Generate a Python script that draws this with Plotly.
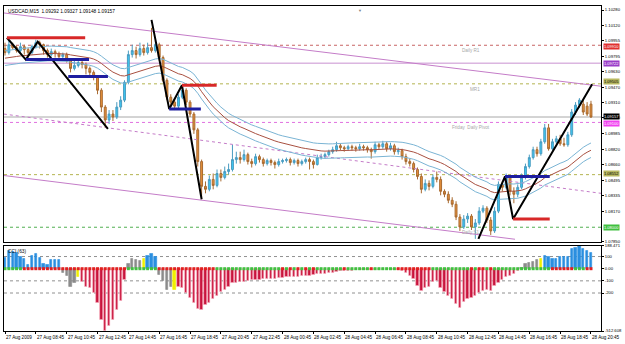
import plotly.graph_objects as go

# ---------------- data (prices in points: price = 1 + pts/100000) ----------------
open_pts = [9875, 9833, 9916, 9885, 9854, 9895, 9864, 9833, 9895, 9937,
            9916, 9854, 9812, 9843, 9823, 9791, 9812, 9750, 9667, 9698,
            9729, 9708, 9667, 9625, 9573, 9438, 9261, 9126, 9188, 9157,
            9261, 9334, 9521, 9812, 9854, 9812, 9875, 9833, 9885, 9854,
            9916, 9781, 9542, 9365, 9313, 9271, 9365, 9438, 9313, 9188,
            9022, 8689, 8429, 8398, 8502, 8439, 8564, 8523, 8585, 8606,
            8710, 8731, 8710, 8762, 8689, 8668, 8741, 8710, 8668, 8700,
            8679, 8658, 8689, 8700, 8710, 8679, 8700, 8668, 8689, 8710,
            8689, 8658, 8731, 8741, 8762, 8793, 8814, 8855, 8835, 8824,
            8845, 8835, 8824, 8845, 8835, 8814, 8793, 8866, 8845, 8876,
            8824, 8855, 8793, 8804, 8741, 8689, 8668, 8606, 8533, 8398,
            8460, 8429, 8523, 8502, 8377, 8346, 8283, 8241, 8107, 8003,
            8086, 8117, 8003, 8045, 8169, 8200, 8075, 7961, 8169, 8450,
            8419, 8523, 8377, 8346, 8419, 8523, 8637, 8731, 8814, 8772,
            8897, 9043, 8824, 8897, 8928, 8876, 8866, 8970, 9209, 9282,
            9292, 9271, 9292]
high_pts = [9937, 9958, 9937, 9906, 9937, 9916, 9885, 9916, 9968, 9958,
            9927, 9875, 9875, 9864, 9843, 9833, 9833, 9771, 9750, 9760,
            9750, 9729, 9687, 9646, 9594, 9459, 9282, 9230, 9230, 9313,
            9375, 9542, 9854, 9916, 9895, 9937, 9916, 9937, 10093, 9958,
            9937, 9802, 9563, 9396, 9344, 9396, 9479, 9459, 9334, 9209,
            9043, 8710, 8481, 8543, 8564, 8606, 8606, 8637, 8668, 8866,
            8793, 8793, 8814, 8783, 8720, 8772, 8762, 8731, 8720, 8720,
            8700, 8720, 8720, 8731, 8731, 8720, 8720, 8710, 8731, 8731,
            8710, 8762, 8772, 8783, 8814, 8845, 8897, 8876, 8855, 8866,
            8866, 8855, 8876, 8866, 8855, 8835, 8897, 8887, 8907, 8897,
            8887, 8876, 8835, 8824, 8772, 8720, 8689, 8627, 8564, 8502,
            8492, 8554, 8585, 8533, 8398, 8377, 8315, 8273, 8138, 8127,
            8148, 8138, 8086, 8211, 8231, 8221, 8107, 8211, 8481, 8481,
            8564, 8543, 8419, 8450, 8564, 8668, 8762, 8845, 8845, 8928,
            9084, 9084, 8928, 8959, 8970, 8939, 9001, 9240, 9313, 9355,
            9334, 9313, 9327]
low_pts = [9802, 9812, 9864, 9833, 9833, 9812, 9781, 9812, 9875, 9875,
           9812, 9781, 9791, 9781, 9760, 9750, 9729, 9625, 9646, 9677,
           9667, 9604, 9583, 9542, 9396, 9209, 9043, 9084, 9115, 9136,
           9230, 9313, 9500, 9781, 9771, 9791, 9802, 9812, 9833, 9833,
           9750, 9521, 9334, 9271, 9230, 9251, 9344, 9282, 9157, 8980,
           8637, 8294, 8356, 8377, 8398, 8419, 8481, 8502, 8554, 8585,
           8668, 8668, 8689, 8658, 8627, 8648, 8679, 8637, 8648, 8648,
           8616, 8637, 8668, 8679, 8648, 8658, 8637, 8648, 8668, 8606,
           8616, 8648, 8710, 8720, 8741, 8772, 8793, 8804, 8793, 8804,
           8804, 8793, 8804, 8804, 8783, 8720, 8772, 8814, 8824, 8793,
           8804, 8762, 8762, 8710, 8658, 8637, 8575, 8502, 8356, 8377,
           8387, 8408, 8471, 8335, 8315, 8252, 8211, 8075, 7961, 7982,
           8045, 7971, 7878, 8024, 8148, 8045, 7919, 7940, 8148, 8377,
           8398, 8335, 8252, 8315, 8398, 8502, 8616, 8710, 8741, 8751,
           8876, 8804, 8804, 8876, 8855, 8845, 8845, 8949, 9178, 9251,
           9178, 9167, 9148]
close_pts = [9833, 9916, 9885, 9854, 9895, 9864, 9833, 9895, 9937, 9916,
             9854, 9812, 9843, 9823, 9791, 9812, 9750, 9667, 9698, 9729,
             9708, 9667, 9625, 9573, 9438, 9261, 9126, 9188, 9157, 9261,
             9334, 9521, 9812, 9854, 9812, 9875, 9833, 9885, 9854, 9916,
             9781, 9542, 9365, 9313, 9271, 9365, 9438, 9313, 9188, 9022,
             8689, 8429, 8398, 8502, 8439, 8564, 8523, 8585, 8606, 8710,
             8731, 8710, 8762, 8689, 8668, 8741, 8710, 8668, 8700, 8679,
             8658, 8689, 8700, 8710, 8679, 8700, 8668, 8689, 8710, 8689,
             8658, 8731, 8741, 8762, 8793, 8814, 8855, 8835, 8824, 8845,
             8835, 8824, 8845, 8835, 8814, 8793, 8866, 8845, 8876, 8824,
             8855, 8793, 8804, 8741, 8689, 8668, 8606, 8533, 8398, 8460,
             8429, 8523, 8502, 8377, 8346, 8283, 8241, 8107, 8003, 8086,
             8117, 8003, 8045, 8169, 8200, 8075, 7961, 8169, 8450, 8419,
             8523, 8377, 8346, 8419, 8523, 8637, 8731, 8814, 8772, 8897,
             9043, 8824, 8897, 8928, 8876, 8866, 8970, 9209, 9282, 9334,
             9209, 9188, 9157]

cci_values = [92, 150, 140, 130, 100, 80, 30, 110, 125, 90,
              40, 35, 70, 75, 70, -30, -60, -150, -120, -70,
              -110, -150, -160, -200, -280, -420, -512.608, -470, -420, -340,
              -260, -90, 40, 80, 70, 65, 80, 110, 125, 95,
              -50, -100, -170, -150, -170, -150, -160, -200, -240, -280,
              -330, -340, -300, -280, -250, -220, -190, -170, -150, -120,
              -115, -110, -105, -100, -95, -95, -90, -85, -85, -80,
              -80, -75, -75, -70, -70, -65, -65, -60, -55, -55,
              -50, -45, -40, -40, -35, -30, -25, -20, -18, -15,
              -15, -12, -10, -10, -8, -8, -6, -6, -5, -5,
              -4, -5, -10, -15, -30, -60, -80, -140, -180, -160,
              -150, -110, -100, -160, -190, -220, -250, -290, -325, -270,
              -250, -240, -220, -200, -180, -170, -180, -140, -120, -90,
              -70, -60, -40, -20, 10, 40, 50, 60, 75, 85,
              105, 95, 85, 85, 95, 95, 100, 160, 175, 188.471, 160,
              150, 130]
# histogram colour state per bar (run-length: code, count)
cci_color_runs = [("b", 15), ("g", 4), ("y", 1), ("r", 12), ("g", 4), ("y", 1),
                  ("b", 3), ("g", 4), ("y", 1), ("r", 89), ("g", 5), ("y", 1), ("b", 13)]
# zero-line trend squares per bar (run-length)
trend_runs = [("g", 5), ("r", 27), ("g", 8), ("r", 15), ("g", 17),
              ("r", 1), ("g", 1), ("r", 1), ("g", 1), ("r", 1), ("g", 1), ("r", 1), ("g", 1), ("r", 1),
              ("g", 7), ("r", 1), ("g", 6), ("r", 1), ("g", 6), ("r", 9), ("g", 10),
              ("r", 1), ("g", 1), ("r", 2), ("g", 1), ("r", 1), ("g", 1),
              ("g", 14), ("r", 6), ("g", 3), ("r", 2)]

time_labels = ["27 Aug 2009", "27 Aug 08:45", "27 Aug 10:45", "27 Aug 12:45", "27 Aug 14:45",
               "27 Aug 16:45", "27 Aug 18:45", "27 Aug 20:45", "27 Aug 22:45", "28 Aug 00:45",
               "28 Aug 02:45", "28 Aug 04:45", "28 Aug 06:45", "28 Aug 08:45", "28 Aug 10:45",
               "28 Aug 12:45", "28 Aug 14:45", "28 Aug 16:45", "28 Aug 18:45", "28 Aug 20:45"]
time_label_bars = [0, 8, 16, 24, 32, 40, 48, 56, 64, 72, 80, 88, 96, 104, 112, 120, 128, 136, 144, 152]

price_ticks = [1.10280, 1.10120, 1.09955, 1.09795, 1.09630, 1.09470, 1.09310, 1.09150,
               1.08985, 1.08820, 1.08660, 1.08495, 1.08335, 1.08170, 1.07850]
cci_ticks = [188.471, 100, 0, -100, -200, -512.608]
cci_tick_text = ["188.471", "100", "0.00", "-100", "-200", "-512.608"]

# drawn objects (bar index, price pts)
zigzag_1 = [(0.5, 9989), (5.4, 9760), (8.5, 9947), (26.7, 9032)]
zigzag_2 = [(38.0, 10176), (42.6, 9240), (45.9, 9490), (51.0, 8294)]
zigzag_3 = [(122.8, 7878), (129.7, 8533), (131.8, 8086), (152.3, 9500)]
red_levels = [(0.5, 20.8, 9989), (45.9, 54.9, 9490), (131.8, 141.3, 8086)]
blue_levels = [(5.4, 21.8, 9760), (16.4, 26.7, 9583), (42.6, 50.8, 9240), (129.7, 141.3, 8533)]
channel_top = [(-0.3, 10249), (154.6, 9480)]
channel_mid = [(-0.3, 9188), (154.6, 8356)]
channel_low = [(-0.3, 8543), (132.3, 7874)]
# horizontal pivot levels: (price, colour, dash, label, label colour, text colour, label shift px)
pivot_levels = [(1.09910, "#C86464", "dot", "1.09910", "#E03030", "white", -1),
                (1.09722, "#C890D0", "solid", "1.09722", "#9A3CC8", "white", 0),
                (1.09505, "#B4B450", "dot", "1.09505", "#B8B860", "black", 2),
                (1.09100, "#E070E0", "dot", "1.09100", "#F040F0", "white", -1),
                (1.08552, "#B4B450", "dot", "1.08552", "#B8B860", "black", 1),
                (1.08000, "#50B050", "dot", "1.08000", "#40C040", "white", 0)]
bid_price = 1.09157
pivot_names = [(121, 1.09910, "Daily R1"), (122, 1.09505, "MR1"),
               (121, 1.09100, "Friday  Daily Pivot"), (121, 1.08000, "Daily S1")]
ma_period = 34
ma_seed_pts = 9771
envelope_dev = 0.0007

# ---------------- derived ----------------
def px(v):
    return 1 + v / 100000.0

n = len(close_pts)
bars = list(range(n))
O = [px(v) for v in open_pts]
H = [px(v) for v in high_pts]
L = [px(v) for v in low_pts]
C = [px(v) for v in close_pts]

alpha = 2.0 / (ma_period + 1)
ema = []
prev = px(ma_seed_pts)
for c in C:
    prev = prev + alpha * (c - prev)
    ema.append(prev)
env_up = [e * (1 + envelope_dev) for e in ema]
env_dn = [e * (1 - envelope_dev) for e in ema]

def expand(runs):
    out = []
    for code, cnt in runs:
        out += [code] * cnt
    return out

cmap = {"b": "#2A8FE0", "g": "#8C8C8C", "y": "#F0F000", "r": "#C8143C"}
cci_colors = [cmap[c] for c in expand(cci_color_runs)]
cci_edge = ["#F7A8B8" if c == "r" else cmap[c] for c in expand(cci_color_runs)]
trend_colors = ["#40C040" if c == "g" else "#E02020" for c in expand(trend_runs)]

FONT = "Liberation Sans"
fig = go.Figure()

# pivot horizontal lines
for price, col, dash, _, _, _, _ in pivot_levels:
    fig.add_shape(type="line", xref="x domain", yref="y", x0=0, x1=1, y0=price, y1=price,
                  line=dict(color=col, width=1, dash=dash), layer="below")
fig.add_shape(type="line", xref="x domain", yref="y", x0=0, x1=1, y0=bid_price, y1=bid_price,
              line=dict(color="#A8A8A8", width=1), layer="below")

# channel lines
for seg, dash in [(channel_top, "solid"), (channel_mid, "dot"), (channel_low, "solid")]:
    fig.add_trace(go.Scatter(x=[p[0] for p in seg], y=[px(p[1]) for p in seg], mode="lines",
                             line=dict(color="#C47CC8", width=1, dash=dash),
                             hoverinfo="skip", showlegend=False, xaxis="x", yaxis="y"))

# envelopes
fig.add_trace(go.Scatter(x=bars, y=env_up, mode="lines", line=dict(color="#7AB4D4", width=1),
                         showlegend=False, hoverinfo="skip", xaxis="x", yaxis="y"))
fig.add_trace(go.Scatter(x=bars, y=ema, mode="lines", line=dict(color="#A85040", width=1),
                         showlegend=False, hoverinfo="skip", xaxis="x", yaxis="y"))
fig.add_trace(go.Scatter(x=bars, y=env_dn, mode="lines", line=dict(color="#7AB4D4", width=1),
                         showlegend=False, hoverinfo="skip", xaxis="x", yaxis="y"))

# candles
fig.add_trace(go.Candlestick(x=bars, open=O, high=H, low=L, close=C,
                             increasing=dict(fillcolor="#3CC8F4", line=dict(color="#4A9CC0", width=1)),
                             decreasing=dict(fillcolor="#E8923A", line=dict(color="#A86A30", width=1)),
                             whiskerwidth=0, showlegend=False, xaxis="x", yaxis="y"))

# zigzags
for zz in [zigzag_1, zigzag_2, zigzag_3]:
    fig.add_trace(go.Scatter(x=[p[0] for p in zz], y=[px(p[1]) for p in zz], mode="lines",
                             line=dict(color="black", width=2), showlegend=False,
                             hoverinfo="skip", xaxis="x", yaxis="y"))
for x0, x1, p in red_levels:
    fig.add_trace(go.Scatter(x=[x0, x1], y=[px(p), px(p)], mode="lines",
                             line=dict(color="#D82828", width=3), showlegend=False,
                             hoverinfo="skip", xaxis="x", yaxis="y"))
for x0, x1, p in blue_levels:
    fig.add_trace(go.Scatter(x=[x0, x1], y=[px(p), px(p)], mode="lines",
                             line=dict(color="#1E1EA0", width=3), showlegend=False,
                             hoverinfo="skip", xaxis="x", yaxis="y"))

# CCI panel
for lvl in [100, -100, -200]:
    fig.add_shape(type="line", xref="x2 domain", yref="y2", x0=0, x1=1, y0=lvl, y1=lvl,
                  line=dict(color="#909090", width=1, dash="dot"), layer="below")
fig.add_trace(go.Bar(x=bars, y=cci_values, width=0.6,
                     marker=dict(color=cci_colors, line=dict(color=cci_edge, width=0.6)),
                     showlegend=False, hoverinfo="skip", xaxis="x2", yaxis="y2"))
fig.add_trace(go.Scatter(x=bars, y=[0] * n, mode="markers",
                         marker=dict(symbol="square", size=3, color=trend_colors, line=dict(width=0)),
                         showlegend=False, hoverinfo="skip", xaxis="x2", yaxis="y2"))

xr = [-0.26, 154.6]
axis_common = dict(showline=True, linecolor="black", linewidth=1, mirror=True,
                   showgrid=False, zeroline=False)
fig.update_layout(
    width=625, height=344, margin=dict(l=3, r=18, t=3, b=13),
    paper_bgcolor="white", plot_bgcolor="white", bargap=0,
    font=dict(family=FONT, size=5, color="black"),
    xaxis=dict(domain=[0, 1], range=xr, anchor="y", showticklabels=False, ticks="",
               rangeslider=dict(visible=False), **axis_common),
    yaxis=dict(domain=[0.2744, 1], range=[1.07847, 1.10322], side="right", anchor="x",
               tickvals=price_ticks, ticktext=["%.5f" % t for t in price_ticks],
               ticks="outside", ticklen=2, tickcolor="black",
               tickfont=dict(size=4.2, family=FONT), **axis_common),
    xaxis2=dict(domain=[0, 1], range=xr, anchor="y2", tickvals=time_label_bars,
                ticks="outside", ticklen=2, tickcolor="black", showticklabels=False, **axis_common),
    yaxis2=dict(domain=[0, 0.2622], range=[-512.608, 188.471], side="right", anchor="x2",
                tickvals=cci_ticks, ticktext=cci_tick_text, ticks="outside", ticklen=2,
                tickcolor="black", tickfont=dict(size=4.2, family=FONT), **axis_common),
)

ann = []
ann.append(dict(xref="paper", yref="paper", x=0.003, y=1, xanchor="left", yanchor="top", yshift=-1,
                text="USDCAD,M15  1.09292 1.09327 1.09148 1.09157", showarrow=False,
                font=dict(size=4.8, family=FONT, color="black")))
ann.append(dict(xref="paper", yref="paper", x=0.003, y=0.2622, xanchor="left", yanchor="top", yshift=-1,
                text="CCI (63)", showarrow=False, font=dict(size=4.8, family=FONT, color="black")))
for b, t in zip(time_label_bars, time_labels):
    ann.append(dict(xref="x2", yref="paper", x=b, y=0, xanchor="left", yanchor="top", xshift=-1, yshift=-2,
                    text=t, showarrow=False, font=dict(size=4.6, family=FONT, color="black")))
for price, _, _, lab, bg, fc, sh in pivot_levels:
    ann.append(dict(xref="paper", yref="y", x=1, y=price, xanchor="left", yanchor="middle", xshift=2,
                    yshift=sh, text=lab, showarrow=False, bgcolor=bg, borderpad=0,
                    font=dict(size=4.0, family=FONT, color=fc)))
ann.append(dict(xref="paper", yref="y", x=1, y=bid_price, xanchor="left", yanchor="middle", xshift=2,
                yshift=1, text="1.09157", showarrow=False, bgcolor="black", borderpad=0,
                font=dict(size=4.0, family=FONT, color="white")))
for b, p, t in pivot_names:
    ann.append(dict(xref="x", yref="y", x=b, y=p, xanchor="center", yanchor="top", yshift=-1,
                    text=t, showarrow=False, font=dict(size=4.6, family=FONT, color="#A8A8A8")))
ann.append(dict(xref="x", yref="paper", x=92, y=1, xanchor="center", yanchor="top",
                text="▼", showarrow=False, font=dict(size=4, color="#808080")))
fig.update_layout(annotations=ann)

fig.write_html("out.html")
